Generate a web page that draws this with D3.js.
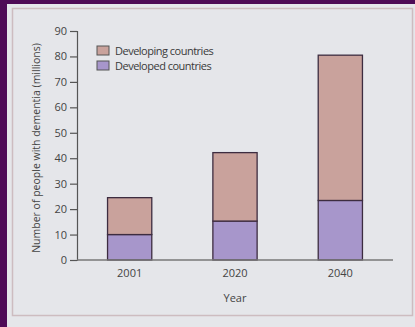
<!DOCTYPE html>
<html>
<head>
<meta charset="utf-8">
<script src="https://cdn.jsdelivr.net/npm/d3@7"></script>
<style>
  body { margin: 0; background: #4e0a56; }
  svg { display: block; }
</style>
</head>
<body>
<script>
// chart data
var years = ['2001', '2020', '2040'];
var developed = [10, 15.3, 23.4];
var developing = [14.5, 26.9, 57.1];
var yTicks = [0, 10, 20, 30, 40, 50, 60, 70, 80, 90];
var seriesNames = ['Developing countries', 'Developed countries'];

var colors = { developing: '#c9a29c', developed: '#a796cb' };

var svg = d3.select('body').append('svg')
    .attr('width', 415)
    .attr('height', 327)

// page
svg.append('rect')
    .attr('x', 7).attr('y', 4)
    .attr('width', 410).attr('height', 330)
    .attr('fill', '#e5e6ea')
svg.append('rect')
    .attr('x', 12.5).attr('y', 8.5)
    .attr('width', 400).attr('height', 307)
    .attr('fill', 'none')
    .attr('stroke', '#cdbcc0')
    .attr('stroke-width', 1.5)

var x = d3.scaleBand()
    .domain(years)
    .range([77, 393])
    .paddingInner(0.58)
    .paddingOuter(0.29)

var y = d3.scaleLinear()
    .domain([0, 90])
    .range([260, 31])

var data = years.map(function (yr, i) {
    return { year: yr, developed: developed[i], developing: developing[i] };
});

var stack = d3.stack().keys(['developed', 'developing'])(data);

var g = svg.append('g')

g.selectAll('g.layer')
    .data(stack)
    .enter().append('g')
    .attr('class', 'layer')
    .attr('fill', function (d) { return colors[d.key] })
    .selectAll('rect')
    .data(function (d) { return d })
    .enter().append('rect')
    .attr('x', function (d) { return x(d.data.year) })
    .attr('width', x.bandwidth())
    .attr('y', function (d) { return y(d[1]) })
    .attr('height', function (d) { return y(d[0]) - y(d[1]) })
    .attr('stroke', '#3d2c40')
    .attr('stroke-width', 1.3)

// y axis
var yAxis = svg.append('g')
    .attr('transform', 'translate(77,0)')
    .call(d3.axisLeft(y).tickValues(yTicks).tickSize(7).tickPadding(3))
yAxis.select('.domain').attr('stroke', '#555').attr('stroke-width', 1.2)
yAxis.selectAll('.tick line').attr('stroke', '#555').attr('stroke-width', 1.2)
yAxis.selectAll('text')
    .attr('fill', '#444')
    .style('font-family', 'Open Sans, sans-serif')
    .style('font-size', '11px')

// x baseline
svg.append('line')
    .attr('x1', 77).attr('x2', 393)
    .attr('y1', y(0)).attr('y2', y(0))
    .attr('stroke', '#777')
    .attr('stroke-width', 1.5)

// year labels
svg.selectAll('text.year')
    .data(years)
    .enter().append('text')
    .attr('class', 'year')
    .attr('x', function (d) { return x(d) + x.bandwidth() / 2 })
    .attr('y', 277)
    .attr('text-anchor', 'middle')
    .attr('fill', '#444')
    .style('font-family', 'Open Sans, sans-serif')
    .style('font-size', '11px')
    .text(function (d) { return d })

svg.append('text')
    .attr('x', 235).attr('y', 302)
    .attr('text-anchor', 'middle')
    .attr('fill', '#444')
    .style('font-family', 'Open Sans, sans-serif')
    .style('font-size', '11px')
    .text('Year')

svg.append('text')
    .attr('transform', 'translate(40,148) rotate(-90)')
    .attr('text-anchor', 'middle')
    .attr('fill', '#444')
    .style('font-family', 'Open Sans, sans-serif')
    .style('font-size', '10.5px')
    .text('Number of people with dementia (millions)')

// legend
var legend = svg.selectAll('g.legend')
    .data(seriesNames)
    .enter().append('g')
    .attr('class', 'legend')
    .attr('transform', function (d, i) { return 'translate(97,' + (46 + i * 15) + ')' })
legend.append('rect')
    .attr('width', 12).attr('height', 9)
    .attr('fill', function (d, i) { return i === 0 ? colors.developing : colors.developed })
    .attr('stroke', '#555')
    .attr('stroke-width', 1)
legend.append('text')
    .attr('x', 18).attr('y', 8.5)
    .attr('fill', '#3a3a3a')
    .style('font-family', 'Open Sans, sans-serif')
    .style('font-size', '11px')
    .style('letter-spacing', '-0.5px')
    .text(function (d) { return d })
</script>
</body>
</html>
